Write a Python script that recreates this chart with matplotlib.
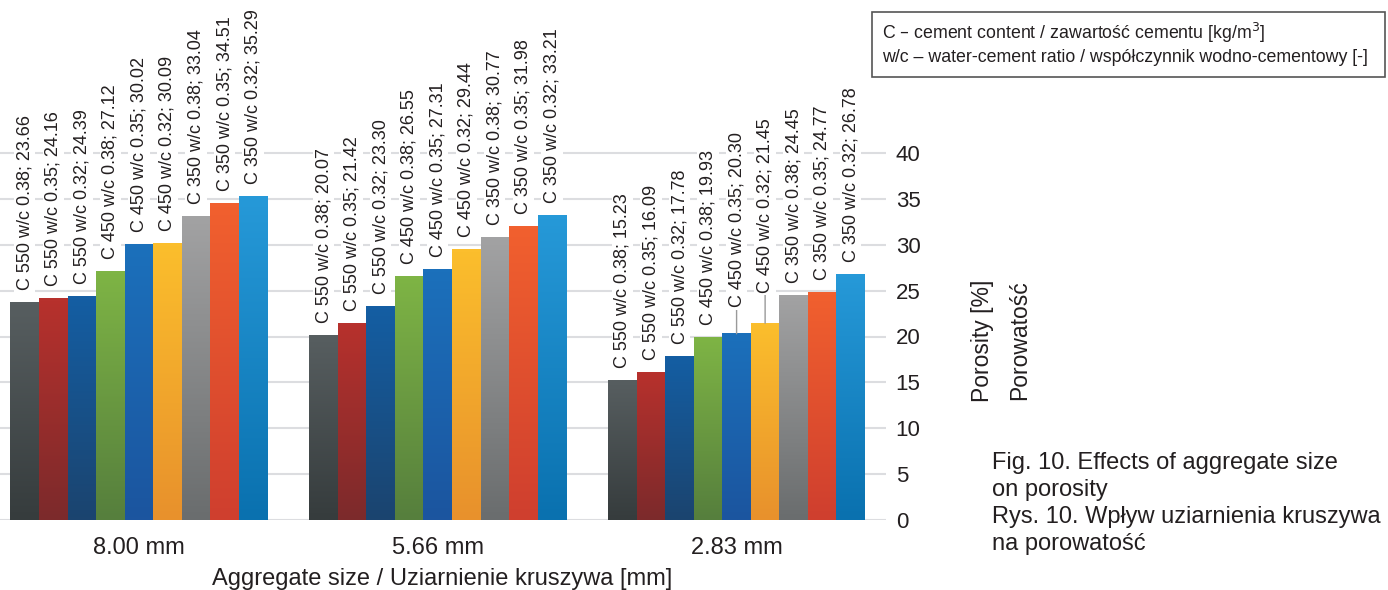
import numpy as np
import matplotlib
matplotlib.use("Agg")
from matplotlib import pyplot as plt
from matplotlib.colors import LinearSegmentedColormap

plt.rcParams['font.family'] = ['Liberation Sans', 'DejaVu Sans']

# Data: porosity [%] per aggregate size, nine mixes each
sizes = ['8.00 mm', '5.66 mm', '2.83 mm']
mixes = ['C 550 w/c 0.38', 'C 550 w/c 0.35', 'C 550 w/c 0.32',
         'C 450 w/c 0.38', 'C 450 w/c 0.35', 'C 450 w/c 0.32',
         'C 350 w/c 0.38', 'C 350 w/c 0.35', 'C 350 w/c 0.32']
porosity_800 = [23.66, 24.16, 24.39, 27.12, 30.02, 30.09, 33.04, 34.51, 35.29]
porosity_566 = [20.07, 21.42, 23.30, 26.55, 27.31, 29.44, 30.77, 31.98, 33.21]
porosity_283 = [15.23, 16.09, 17.78, 19.93, 20.30, 21.45, 24.45, 24.77, 26.78]

# (top, bottom) colours of each bar gradient
bar_colors = [('#575e60', '#363c3d'), ('#b7312d', '#7c2a2b'), ('#145ea3', '#1b446f'),
              ('#7eb445', '#567f3d'), ('#1b70bb', '#1c559f'), ('#fbbe2d', '#e8912c'),
              ('#a2a2a3', '#6a6d6e'), ('#f1602f', '#cf3f2e'), ('#2699d8', '#0a71af')]

text_col = '#231f20'
values = np.array([porosity_800, porosity_566, porosity_283])

fig = plt.figure(figsize=(13.88, 5.9), dpi=100)
ax = fig.add_axes([-10.5 / 1388, 70 / 590, 896.5 / 1388, 520 / 590])

w = 0.0955
x = np.arange(len(sizes))
for j in range(len(mixes)):
    pos = x + (j - 4) * w
    bars = ax.bar(pos, values[:, j], width=w, color='none', edgecolor='none', zorder=2)
    cmap = LinearSegmentedColormap.from_list('g%d' % j, [bar_colors[j][1], bar_colors[j][0]])
    for b in bars:
        x0, h = b.get_x(), b.get_height()
        grad = np.linspace(0, 1, 64).reshape(-1, 1)
        ax.imshow(grad, cmap=cmap, origin='lower', aspect='auto', zorder=2,
                  extent=[x0, x0 + w, 0, h], interpolation='bilinear')

# value labels above the bars, two of them lifted with a leader line
lifted = {(2, 4): 19, (2, 5): 22}
for i in range(len(sizes)):
    for j in range(len(mixes)):
        v = values[i, j]
        px = x[i] + (j - 4) * w
        off = lifted.get((i, j), 9)
        label = '%s; %.2f' % (mixes[j], v)
        arrow = None
        if (i, j) in lifted:
            arrow = dict(arrowstyle='-', color='#9a9a9a', lw=1, shrinkA=0, shrinkB=0)
        ax.annotate(label, xy=(px, v), xytext=(0, off), textcoords='offset points',
                    rotation=90, ha='center', va='bottom', fontsize=13, color=text_col,
                    bbox=dict(facecolor='white', edgecolor='none', pad=1.5),
                    arrowprops=arrow, zorder=3)

ax.set_xlim(-0.5, 2.5)
ax.set_ylim(0, 520 / 9.175)
ax.set_yticks(range(0, 45, 5))
ax.yaxis.tick_right()
ax.tick_params(axis='y', length=0, pad=7, labelsize=16, labelcolor=text_col)
ax.set_xticks(x)
ax.set_xticklabels(sizes)
ax.tick_params(axis='x', length=0, pad=12, labelsize=17, labelcolor=text_col)
ax.grid(axis='y', color='#dcdde0', lw=1.5, zorder=0)
ax.set_axisbelow(True)
for s in ax.spines.values():
    s.set_visible(False)

fig.text(442 / 1388, 1 - 579 / 590, 'Aggregate size / Uziarnienie kruszywa [mm]',
         ha='center', va='center', fontsize=17, color=text_col)
fig.text(982 / 1388, 1 - 341 / 590, 'Porosity [%]', rotation=90,
         ha='center', va='center', fontsize=16.5, color=text_col)
fig.text(1020 / 1388, 1 - 340 / 590, 'Porowatość', rotation=90,
         ha='center', va='center', fontsize=16.5, color=text_col)

# legend box for the symbols
fig.patches.append(plt.Rectangle((872 / 1388, 1 - 77 / 590), 513 / 1388, 65 / 590,
                                 transform=fig.transFigure, facecolor='white',
                                 edgecolor='#555555', lw=1.2))
fig.text(882 / 1388, 1 - 33 / 590, 'C – cement content / zawartość cementu [kg/m$^3$]',
         ha='left', va='center', fontsize=12.8, color=text_col)
fig.text(882 / 1388, 1 - 58 / 590, 'w/c – water-cement ratio / współczynnik wodno-cementowy [-]',
         ha='left', va='center', fontsize=12.8, color=text_col)

fig.text(992 / 1388, 1 - 452 / 590,
         'Fig. 10. Effects of aggregate size\non porosity\n'
         'Rys. 10. Wpływ uziarnienia kruszywa\nna porowatość',
         ha='left', va='top', fontsize=17, color=text_col, linespacing=1.3)

fig.savefig('out.png', dpi=100)
